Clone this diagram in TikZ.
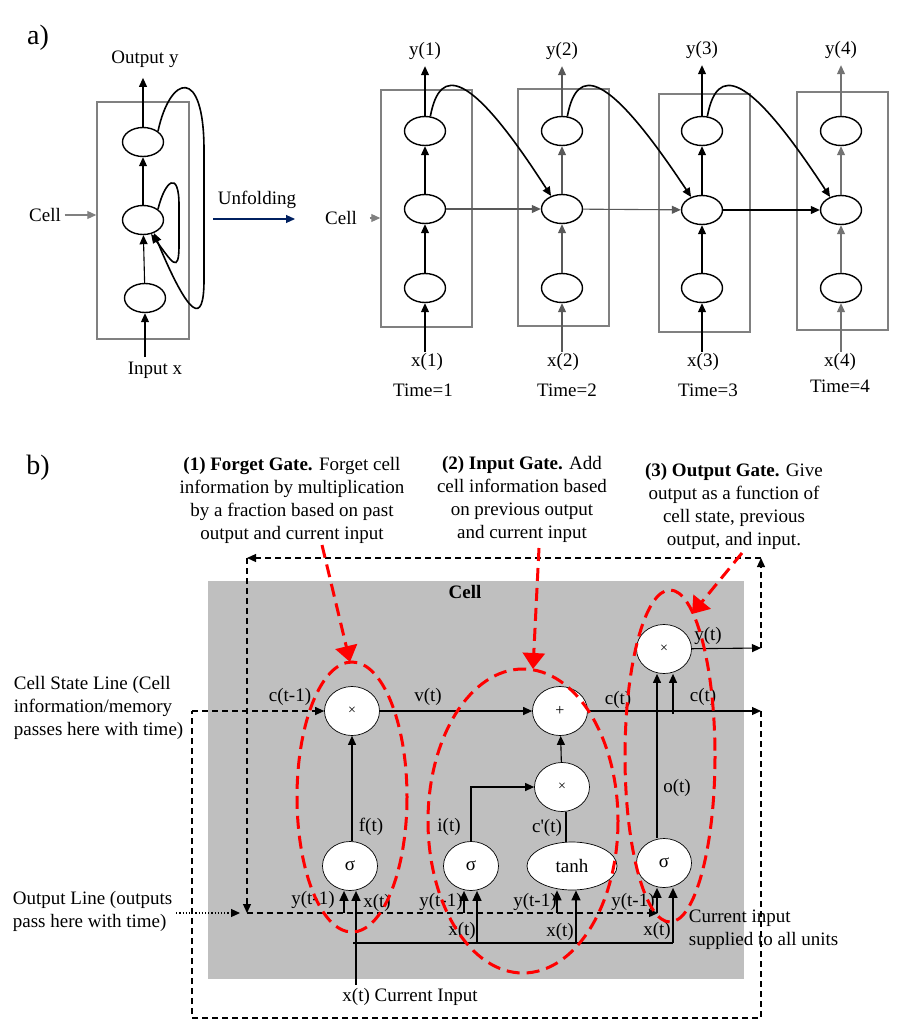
\documentclass[tikz,border=0pt]{standalone}
\usepackage{fontspec}
\setmainfont{Liberation Serif}
\usetikzlibrary{shapes.geometric,arrows.meta}
\definecolor{cellgray}{HTML}{BFBFBF}
\definecolor{navyblue}{HTML}{002060}
\begin{document}
\begin{tikzpicture}[x=1pt,y=-1pt,font=\fontsize{19}{23}\selectfont,line width=1.1pt,
  >={Triangle[length=9pt,width=8pt]},
  neuron/.style={ellipse,draw,fill=white,minimum width=41pt,minimum height=29pt,inner sep=0pt,line width=1.4pt},
  cellbox/.style={draw=gray,line width=1.5pt,minimum width=91pt,minimum height=237pt,inner sep=0pt},
  gatenode/.style={ellipse,draw,fill=white,minimum width=55pt,minimum height=49pt,inner sep=0pt,line width=0.7pt},
  feedback/.style={->,line width=1.6pt},
  inarrow/.style={line width=1.6pt,-{Triangle[length=10pt,width=9pt]}},
  dashline/.style={dash pattern=on 6pt off 4pt,line width=1.2pt},
  reddash/.style={draw=red,line width=3pt,dash pattern=on 13pt off 7pt},
  redarrow/.style={reddash,-{Triangle[length=16pt,width=22pt]}}]
  \useasboundingbox (0,0) rectangle (912,1028);
  \node[font=\fontsize{28}{30}\selectfont] (alab) at (38,38) {a)};
  \node[cellbox,minimum width=92pt] (cell) at (143,220.5) {};
  \node[neuron] (lt) at (143,142) {};
  \node[neuron] (lm) at (143,220) {};
  \node[neuron] (lb) at (145,298) {};
  \node[inner sep=10pt] (outy) at (145,59) {Output y};
  \node[inner sep=4pt] (inx) at (155,370) {Input x};
  \node (celll) at (45,215) {Cell};
  \node (unf) at (257,200) {Unfolding};
  \coordinate (us) at (213,219);
  \coordinate (ue) at (295,219);
  \draw[->] (lt) -- (lt |- outy.south);
  \draw[->] (lm) -- (lt);
  \draw[->] (lb) -- (lm);
  \draw[->] (lb |- inx.north) -- (lb);
  \draw[->,gray] (celll) -- (cell.west |- celll);
  \draw[->,navyblue] (us) -- (ue);
  \draw[feedback] (lm.north east) .. controls (165,180) and (179,170) .. (179,205) -- (179,245) .. controls (179,275) and (172,262) .. (lm.-60);
  \draw[feedback] (lt.north east) .. controls (170,75) and (204,65) .. (204,150) -- (204,280) .. controls (204,325) and (190,320) .. (lm.-50);

  \node (cellr) at (341,218) {Cell};
  \node[cellbox] (box1) at (426.5,208.5) {};
  \node[cellbox] (box2) at (563.5,207.5) {};
  \node[cellbox,minimum height=238pt] (box3) at (704.5,213) {};
  \node[cellbox,minimum height=238pt] (box4) at (842.5,211) {};
  \node[neuron] (o1) at (425,131) {};
  \node[neuron] (h1) at (425,209) {};
  \node[neuron] (i1) at (425,288) {};
  \node[neuron] (o2) at (562,131) {};
  \node[neuron] (h2) at (562,209) {};
  \node[neuron] (i2) at (562,288) {};
  \node[neuron] (o3) at (702,131) {};
  \node[neuron] (h3) at (702,210) {};
  \node[neuron] (i3) at (702,288) {};
  \node[neuron] (o4) at (841,131) {};
  \node[neuron] (h4) at (841,210) {};
  \node[neuron] (i4) at (841,288) {};
  \node[inner sep=6pt] (y1) at (425,51) {y(1)};
  \node[inner sep=6pt] (y2) at (562,51) {y(2)};
  \node[inner sep=6pt] (y3) at (702,50) {y(3)};
  \node[inner sep=6pt] (y4) at (841,50) {y(4)};
  \node[inner sep=1pt] (x1) at (427,362) {x(1)};
  \node[inner sep=1pt] (x2) at (563,362) {x(2)};
  \node[inner sep=1pt] (x3) at (703,362) {x(3)};
  \node[inner sep=1pt] (x4) at (840,362) {x(4)};
  \node (time1) at (423,390) {Time=1};
  \node (time2) at (567,390) {Time=2};
  \node (time3) at (708,390) {Time=3};
  \node (time4) at (840,386) {Time=4};
  \draw[->,gray,shorten <=9pt] (cellr) -- (box1.west |- cellr);
  \draw[->] (o1) -- (o1 |- y1.south);
  \draw[->] (h1) -- (o1);
  \draw[->] (i1) -- (h1);
  \draw[->] (i1 |- x1.north) -- (i1);
  \draw[->,black!65] (o2) -- (o2 |- y2.south);
  \draw[->,black!65] (h2) -- (o2);
  \draw[->,black!65] (i2) -- (h2);
  \draw[->,black!65] (i2 |- x2.north) -- (i2);
  \draw[->] (o3) -- (o3 |- y3.south);
  \draw[->] (h3) -- (o3);
  \draw[->] (i3) -- (h3);
  \draw[->] (i3 |- x3.north) -- (i3);
  \draw[->,black!55] (o4) -- (o4 |- y4.south);
  \draw[->,black!55] (h4) -- (o4);
  \draw[->,black!55] (i4) -- (h4);
  \draw[->,black!55] (i4 |- x4.north) -- (i4);
  \draw[->,black!65] (h1) -- (h2);
  \draw[->,black!65] (h2) -- (h3);
  \draw[->] (h3) -- (h4);
  \draw[feedback] (o1.70) .. controls (440,65) and (470,70) .. (h2.130);
  \draw[feedback] (o2.70) .. controls (577,65) and (607,70) .. (h3.130);
  \draw[feedback] (o3.70) .. controls (717,65) and (747,70) .. (h4.130);

  \node[font=\fontsize{28}{30}\selectfont] (blab) at (38,468) {b)};
  \node[fill=cellgray,minimum width=536pt,minimum height=398pt,inner sep=0pt] (cellbg) at (476,780) {};
  \node (celltitle) at (465,592) {\textbf{Cell}};
  \node[align=center] (fgt) at (292,500) {\textbf{(1) Forget Gate.} Forget cell\\information by multiplication\\by a fraction based on past\\output and current input};
  \node[align=center] (igt) at (522,499) {\textbf{(2) Input Gate.} Add\\cell information based\\on previous output\\and current input};
  \node[align=center] (ogt) at (734,506) {\textbf{(3) Output Gate.} Give\\output as a function of\\cell state, previous\\output, and input.};
  \node[align=left,anchor=west] (cslab) at (10,708) {Cell State Line (Cell\\information/memory\\passes here with time)};
  \node[align=left,anchor=west] (ollab) at (9,911) {Output Line (outputs\\pass here with time)};
  \node[align=left,anchor=west] (cilab) at (685,930) {Current input\\supplied to all units};
  \node (cin) at (410,997) {x(t) Current Input};
  \node[gatenode,font=\fontsize{14}{14}\selectfont] (fx) at (352,711) {×};
  \node[gatenode] (fs) at (350,866) {σ};
  \node[gatenode,font=\fontsize{16}{16}\selectfont] (add) at (560,711) {+};
  \node[gatenode,font=\fontsize{14}{14}\selectfont] (ix) at (562,787) {×};
  \node[gatenode] (is) at (471,866) {σ};
  \node[gatenode,minimum width=90pt,minimum height=48pt] (th) at (572,866) {tanh};
  \node[gatenode,font=\fontsize{14}{14}\selectfont] (ox) at (664,649) {×};
  \node[gatenode] (os) at (664,863) {σ};
  \node (lct1) at (290,697) {c(t-1)};
  \node (lvt) at (428,697) {v(t)};
  \node (lct) at (618,700) {c(t)};
  \node (lct2) at (703,697) {c(t)};
  \node (lyt) at (708,636) {y(t)};
  \node (lft) at (371,827) {f(t)};
  \node (lit) at (449,827) {i(t)};
  \node (lcp) at (547,828) {c\textquotesingle(t)};
  \node (lot) at (677,788) {o(t)};
  \node (fy) at (313,900) {y(t-1)};
  \node (iy) at (441,902) {y(t-1)};
  \node (ty) at (535,902) {y(t-1)};
  \node (oy) at (633,902) {y(t-1)};
  \node (fxt) at (377,903) {x(t)};
  \node (ixt) at (462,931) {x(t)};
  \node (txt) at (560,932) {x(t)};
  \node (oxt) at (657,931) {x(t)};
  \coordinate (cend) at (761,711);
  \coordinate (yend) at (761,648);
  \coordinate (tr) at (761,558);
  \coordinate (tl) at (247,558);
  \coordinate (ol) at (247,913);
  \coordinate (oend) at (658,913);
  \coordinate (br) at (761,1018);
  \coordinate (bl) at (192,1018);
  \coordinate (cl) at (192,711);
  \coordinate (ctap) at (673,714);
  \coordinate (busl) at (353,943);
  \coordinate (busr) at (673,943);
  \draw[dashline,->] (yend) -- (tr);
  \draw[dashline,->] (tr) -- (tl);
  \draw[dashline,->] (tl) -- (ol);
  \draw[dashline,->] (ol) -- (oend);
  \draw[dashline] (cend) -- (br) -- (bl) -- (cl);
  \draw[dashline,->] (cl) -- (fx);
  \draw[dotted,line width=1.2pt,->,shorten >=7pt] (ollab.east |- ol) -- (ol);
  \draw[->] (fs.north -| fx) -- (fx);
  \draw[->] (fx) -- (add);
  \draw[->] (is) |- (ix);
  \draw ([xshift=4pt]ix.south) -- ([xshift=4pt]ix.south |- th.north);
  \draw[->] (ix) -- (add);
  \draw[->] (add) -- (cend);
  \draw[->] (ctap) -- (ctap |- ox.south);
  \draw[->] ([xshift=-7pt]os.north) -- ([xshift=-7pt]os.north |- ox.south);
  \draw[->] (ox) -- (yend);
  \draw[inarrow] ([xshift=-6pt]fs.south |- ol) -- ([xshift=-6pt]fs.south);
  \draw[inarrow] ([xshift=-7pt]is.south |- ol) -- ([xshift=-7pt]is.south);
  \draw[inarrow] ([xshift=-15pt]th.south |- ol) -- ([xshift=-15pt]th.south);
  \draw[inarrow] ([xshift=-7pt]os.south |- ol) -- ([xshift=-7pt]os.south);
  \draw (busl) -- (busr);
  \draw[inarrow] ([xshift=6pt]fs.south |- cin.north) -- ([xshift=6pt]fs.south);
  \draw[inarrow] ([xshift=6pt]is.south |- busl) -- ([xshift=6pt]is.south);
  \draw[inarrow] ([xshift=4pt]th.south |- busl) -- ([xshift=4pt]th.south);
  \draw[inarrow] (busr) -- (busr |- os.south);
  \draw[reddash] (352,797) ellipse [x radius=55, y radius=135];
  \draw[reddash] (523,821) ellipse [x radius=95, y radius=152];
  \draw[reddash] (670,756) ellipse [x radius=45, y radius=166];
  \coordinate (fa) at (322,545);
  \coordinate (fb) at (350,662);
  \coordinate (ia) at (539,548);
  \coordinate (ib) at (533,669);
  \coordinate (oa) at (742,553);
  \coordinate (ob) at (692,614);
  \draw[redarrow] (fa) -- (fb);
  \draw[redarrow] (ia) -- (ib);
  \draw[redarrow] (oa) -- (ob);
\end{tikzpicture}
\end{document}
